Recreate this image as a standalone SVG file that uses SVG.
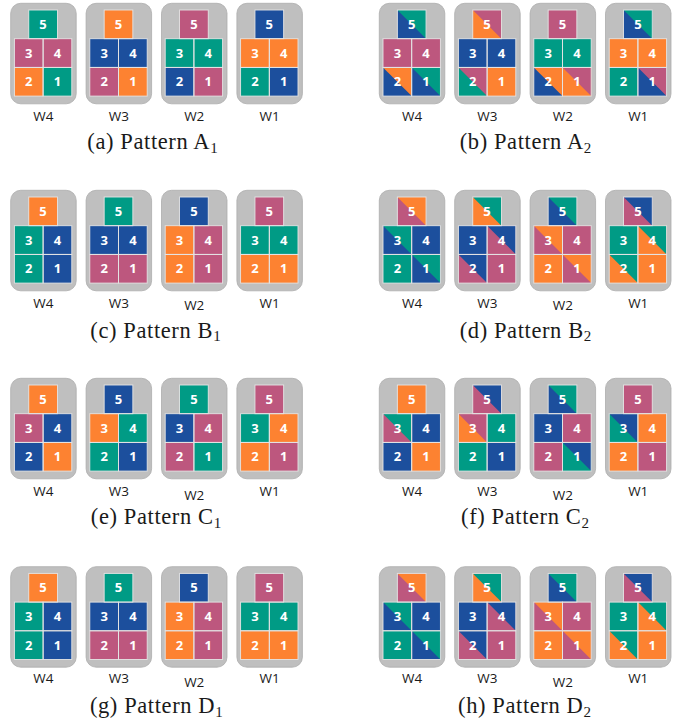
<svg xmlns="http://www.w3.org/2000/svg" width="684" height="724" viewBox="0 0 684 724">
<style>
.t{fill:#009b85}.o{fill:#fd8231}.p{fill:#bd577e}.b{fill:#1c4f9d}
.n{font-family:"Open Sans","Liberation Sans",sans-serif;font-weight:bold;font-size:13px;fill:#fff;text-anchor:middle}
.w{font-family:"Open Sans","Liberation Sans",sans-serif;font-size:13.5px;fill:#1a1a1a;text-anchor:middle}
.c{font-family:"Liberation Serif","Times New Roman",serif;font-size:22.5px;letter-spacing:0.6px;fill:#1a1a1a;text-anchor:middle}
.s{font-size:15px;letter-spacing:0}
</style>
<defs>
<rect id="bg" width="65.5" height="100.5" rx="10" fill="#bfbfbf" stroke="#acacac" stroke-width="0.8"/>
<rect id="q5" x="18.05" y="6.7" width="28.7" height="28.7"/>
<rect id="q3" x="3.7" y="35.4" width="28.7" height="28.7"/>
<rect id="q4" x="32.4" y="35.4" width="28.7" height="28.7"/>
<rect id="q2" x="3.7" y="64.1" width="28.7" height="28.7"/>
<rect id="q1" x="32.4" y="64.1" width="28.7" height="28.7"/>
<path id="u5" d="M18.05 6.7H46.75V35.4Z"/>
<path id="u3" d="M3.7 35.4H32.4V64.1Z"/>
<path id="u4" d="M32.4 35.4H61.1V64.1Z"/>
<path id="u2" d="M3.7 64.1H32.4V92.8Z"/>
<path id="u1" d="M32.4 64.1H61.1V92.8Z"/>
<g id="grid" fill="none" stroke="#e4e4e4" stroke-width="0.9">
<rect x="18.05" y="6.7" width="28.7" height="28.7"/>
<rect x="3.7" y="35.4" width="28.7" height="28.7"/>
<rect x="32.4" y="35.4" width="28.7" height="28.7"/>
<rect x="3.7" y="64.1" width="28.7" height="28.7"/>
<rect x="32.4" y="64.1" width="28.7" height="28.7"/>
</g>
<g id="dig" class="n">
<text x="32.4" y="25.7">5</text>
<text x="18.05" y="54.4">3</text>
<text x="46.75" y="54.4">4</text>
<text x="18.05" y="83.1">2</text>
<text x="46.75" y="83.1">1</text>
</g>
</defs>

<!-- (a) Pattern A1 -->
<g id="a-w4" transform="translate(10.7,3.3)"><use href="#bg"/><use href="#q5" class="t"/><use href="#q3" class="p"/><use href="#q4" class="p"/><use href="#q2" class="o"/><use href="#q1" class="t"/><use href="#grid"/><use href="#dig"/><text class="w" x="32.75" y="118">W4</text></g>
<g id="a-w3" transform="translate(86.1,3.3)"><use href="#bg"/><use href="#q5" class="o"/><use href="#q3" class="b"/><use href="#q4" class="b"/><use href="#q2" class="p"/><use href="#q1" class="o"/><use href="#grid"/><use href="#dig"/><text class="w" x="32.75" y="118">W3</text></g>
<g id="a-w2" transform="translate(161.5,3.3)"><use href="#bg"/><use href="#q5" class="p"/><use href="#q3" class="t"/><use href="#q4" class="t"/><use href="#q2" class="b"/><use href="#q1" class="p"/><use href="#grid"/><use href="#dig"/><text class="w" x="32.75" y="118">W2</text></g>
<g id="a-w1" transform="translate(236.9,3.3)"><use href="#bg"/><use href="#q5" class="b"/><use href="#q3" class="o"/><use href="#q4" class="o"/><use href="#q2" class="t"/><use href="#q1" class="b"/><use href="#grid"/><use href="#dig"/><text class="w" x="32.75" y="118">W1</text></g>

<!-- (b) Pattern A2 -->
<g id="b-w4" transform="translate(379.3,3.3)"><use href="#bg"/><use href="#q5" class="b"/><use href="#u5" class="t"/><use href="#q3" class="p"/><use href="#q4" class="p"/><use href="#q2" class="b"/><use href="#u2" class="o"/><use href="#q1" class="b"/><use href="#u1" class="t"/><use href="#grid"/><use href="#dig"/><text class="w" x="32.75" y="118">W4</text></g>
<g id="b-w3" transform="translate(454.7,3.3)"><use href="#bg"/><use href="#q5" class="o"/><use href="#u5" class="p"/><use href="#q3" class="b"/><use href="#q4" class="b"/><use href="#q2" class="t"/><use href="#u2" class="p"/><use href="#q1" class="o"/><use href="#grid"/><use href="#dig"/><text class="w" x="32.75" y="118">W3</text></g>
<g id="b-w2" transform="translate(530.1,3.3)"><use href="#bg"/><use href="#q5" class="p"/><use href="#q3" class="t"/><use href="#q4" class="t"/><use href="#q2" class="b"/><use href="#u2" class="o"/><use href="#q1" class="o"/><use href="#u1" class="p"/><use href="#grid"/><use href="#dig"/><text class="w" x="32.75" y="118">W2</text></g>
<g id="b-w1" transform="translate(605.5,3.3)"><use href="#bg"/><use href="#q5" class="b"/><use href="#u5" class="t"/><use href="#q3" class="o"/><use href="#q4" class="o"/><use href="#q2" class="t"/><use href="#q1" class="b"/><use href="#u1" class="p"/><use href="#grid"/><use href="#dig"/><text class="w" x="32.75" y="118">W1</text></g>

<!-- (c) Pattern B1 -->
<g id="c-w4" transform="translate(10.7,190.3)"><use href="#bg"/><use href="#q5" class="o"/><use href="#q3" class="t"/><use href="#q4" class="b"/><use href="#q2" class="t"/><use href="#q1" class="b"/><use href="#grid"/><use href="#dig"/><text class="w" x="32.75" y="118">W4</text></g>
<g id="c-w3" transform="translate(86.1,190.3)"><use href="#bg"/><use href="#q5" class="t"/><use href="#q3" class="b"/><use href="#q4" class="b"/><use href="#q2" class="p"/><use href="#q1" class="p"/><use href="#grid"/><use href="#dig"/><text class="w" x="32.75" y="118">W3</text></g>
<g id="c-w2" transform="translate(161.5,190.3)"><use href="#bg"/><use href="#q5" class="b"/><use href="#q3" class="o"/><use href="#q4" class="p"/><use href="#q2" class="o"/><use href="#q1" class="p"/><use href="#grid"/><use href="#dig"/><text class="w" x="32.75" y="119.7">W2</text></g>
<g id="c-w1" transform="translate(236.9,190.3)"><use href="#bg"/><use href="#q5" class="p"/><use href="#q3" class="t"/><use href="#q4" class="t"/><use href="#q2" class="o"/><use href="#q1" class="o"/><use href="#grid"/><use href="#dig"/><text class="w" x="32.75" y="118">W1</text></g>

<!-- (d) Pattern B2 -->
<g id="d-w4" transform="translate(379.3,190.3)"><use href="#bg"/><use href="#q5" class="p"/><use href="#u5" class="o"/><use href="#q3" class="b"/><use href="#u3" class="t"/><use href="#q4" class="b"/><use href="#q2" class="t"/><use href="#q1" class="b"/><use href="#u1" class="t"/><use href="#grid"/><use href="#dig"/><text class="w" x="32.75" y="118">W4</text></g>
<g id="d-w3" transform="translate(454.7,190.3)"><use href="#bg"/><use href="#q5" class="o"/><use href="#u5" class="t"/><use href="#q3" class="b"/><use href="#q4" class="p"/><use href="#u4" class="b"/><use href="#q2" class="p"/><use href="#u2" class="b"/><use href="#q1" class="p"/><use href="#grid"/><use href="#dig"/><text class="w" x="32.75" y="118">W3</text></g>
<g id="d-w2" transform="translate(530.1,190.3)"><use href="#bg"/><use href="#q5" class="b"/><use href="#u5" class="t"/><use href="#q3" class="p"/><use href="#u3" class="o"/><use href="#q4" class="p"/><use href="#q2" class="o"/><use href="#q1" class="p"/><use href="#u1" class="o"/><use href="#grid"/><use href="#dig"/><text class="w" x="32.75" y="119.7">W2</text></g>
<g id="d-w1" transform="translate(605.5,190.3)"><use href="#bg"/><use href="#q5" class="p"/><use href="#u5" class="b"/><use href="#q3" class="t"/><use href="#q4" class="o"/><use href="#u4" class="t"/><use href="#q2" class="o"/><use href="#u2" class="t"/><use href="#q1" class="o"/><use href="#grid"/><use href="#dig"/><text class="w" x="32.75" y="118">W1</text></g>

<!-- (e) Pattern C1 -->
<g id="e-w4" transform="translate(10.7,378.3)"><use href="#bg"/><use href="#q5" class="o"/><use href="#q3" class="p"/><use href="#q4" class="b"/><use href="#q2" class="b"/><use href="#q1" class="o"/><use href="#grid"/><use href="#dig"/><text class="w" x="32.75" y="118">W4</text></g>
<g id="e-w3" transform="translate(86.1,378.3)"><use href="#bg"/><use href="#q5" class="b"/><use href="#q3" class="o"/><use href="#q4" class="t"/><use href="#q2" class="t"/><use href="#q1" class="b"/><use href="#grid"/><use href="#dig"/><text class="w" x="32.75" y="118">W3</text></g>
<g id="e-w2" transform="translate(161.5,378.3)"><use href="#bg"/><use href="#q5" class="t"/><use href="#q3" class="b"/><use href="#q4" class="p"/><use href="#q2" class="p"/><use href="#q1" class="t"/><use href="#grid"/><use href="#dig"/><text class="w" x="32.75" y="121.3">W2</text></g>
<g id="e-w1" transform="translate(236.9,378.3)"><use href="#bg"/><use href="#q5" class="p"/><use href="#q3" class="t"/><use href="#q4" class="o"/><use href="#q2" class="o"/><use href="#q1" class="p"/><use href="#grid"/><use href="#dig"/><text class="w" x="32.75" y="118">W1</text></g>

<!-- (f) Pattern C2 -->
<g id="f-w4" transform="translate(379.3,378.3)"><use href="#bg"/><use href="#q5" class="o"/><use href="#q3" class="p"/><use href="#u3" class="t"/><use href="#q4" class="b"/><use href="#q2" class="b"/><use href="#q1" class="o"/><use href="#grid"/><use href="#dig"/><text class="w" x="32.75" y="118">W4</text></g>
<g id="f-w3" transform="translate(454.7,378.3)"><use href="#bg"/><use href="#q5" class="p"/><use href="#u5" class="b"/><use href="#q3" class="o"/><use href="#u3" class="p"/><use href="#q4" class="t"/><use href="#q2" class="t"/><use href="#q1" class="b"/><use href="#grid"/><use href="#dig"/><text class="w" x="32.75" y="118">W3</text></g>
<g id="f-w2" transform="translate(530.1,378.3)"><use href="#bg"/><use href="#q5" class="b"/><use href="#u5" class="t"/><use href="#q3" class="b"/><use href="#q4" class="p"/><use href="#q2" class="p"/><use href="#q1" class="t"/><use href="#u1" class="b"/><use href="#grid"/><use href="#dig"/><text class="w" x="32.75" y="121.3">W2</text></g>
<g id="f-w1" transform="translate(605.5,378.3)"><use href="#bg"/><use href="#q5" class="p"/><use href="#q3" class="t"/><use href="#u3" class="b"/><use href="#q4" class="o"/><use href="#q2" class="o"/><use href="#q1" class="p"/><use href="#grid"/><use href="#dig"/><text class="w" x="32.75" y="118">W1</text></g>

<!-- (g) Pattern D1 -->
<g id="g-w4" transform="translate(10.7,566.7)"><use href="#bg"/><use href="#q5" class="o"/><use href="#q3" class="t"/><use href="#q4" class="b"/><use href="#q2" class="t"/><use href="#q1" class="b"/><use href="#grid"/><use href="#dig"/><text class="w" x="32.75" y="116.5">W4</text></g>
<g id="g-w3" transform="translate(86.1,566.7)"><use href="#bg"/><use href="#q5" class="t"/><use href="#q3" class="b"/><use href="#q4" class="b"/><use href="#q2" class="p"/><use href="#q1" class="p"/><use href="#grid"/><use href="#dig"/><text class="w" x="32.75" y="116.5">W3</text></g>
<g id="g-w2" transform="translate(161.5,566.7)"><use href="#bg"/><use href="#q5" class="b"/><use href="#q3" class="o"/><use href="#q4" class="p"/><use href="#q2" class="o"/><use href="#q1" class="p"/><use href="#grid"/><use href="#dig"/><text class="w" x="32.75" y="119.9">W2</text></g>
<g id="g-w1" transform="translate(236.9,566.7)"><use href="#bg"/><use href="#q5" class="p"/><use href="#q3" class="t"/><use href="#q4" class="t"/><use href="#q2" class="o"/><use href="#q1" class="o"/><use href="#grid"/><use href="#dig"/><text class="w" x="32.75" y="116.5">W1</text></g>

<!-- (h) Pattern D2 -->
<g id="h-w4" transform="translate(379.3,566.7)"><use href="#bg"/><use href="#q5" class="p"/><use href="#u5" class="o"/><use href="#q3" class="b"/><use href="#u3" class="t"/><use href="#q4" class="b"/><use href="#q2" class="t"/><use href="#q1" class="b"/><use href="#u1" class="t"/><use href="#grid"/><use href="#dig"/><text class="w" x="32.75" y="116.5">W4</text></g>
<g id="h-w3" transform="translate(454.7,566.7)"><use href="#bg"/><use href="#q5" class="o"/><use href="#u5" class="t"/><use href="#q3" class="b"/><use href="#q4" class="p"/><use href="#u4" class="b"/><use href="#q2" class="p"/><use href="#u2" class="b"/><use href="#q1" class="p"/><use href="#grid"/><use href="#dig"/><text class="w" x="32.75" y="116.5">W3</text></g>
<g id="h-w2" transform="translate(530.1,566.7)"><use href="#bg"/><use href="#q5" class="b"/><use href="#u5" class="t"/><use href="#q3" class="p"/><use href="#u3" class="o"/><use href="#q4" class="p"/><use href="#q2" class="o"/><use href="#q1" class="p"/><use href="#u1" class="o"/><use href="#grid"/><use href="#dig"/><text class="w" x="32.75" y="119.9">W2</text></g>
<g id="h-w1" transform="translate(605.5,566.7)"><use href="#bg"/><use href="#q5" class="p"/><use href="#u5" class="b"/><use href="#q3" class="t"/><use href="#q4" class="o"/><use href="#u4" class="t"/><use href="#q2" class="o"/><use href="#u2" class="t"/><use href="#q1" class="o"/><use href="#grid"/><use href="#dig"/><text class="w" x="32.75" y="116.5">W1</text></g>

<!-- captions -->
<g id="captions">
<text class="c" x="152.5" y="149">(a) Pattern A<tspan class="s" dy="3.5">1</tspan></text>
<text class="c" x="525.5" y="149">(b) Pattern A<tspan class="s" dy="3.5">2</tspan></text>
<text class="c" x="155.5" y="337.5">(c) Pattern B<tspan class="s" dy="3.5">1</tspan></text>
<text class="c" x="525.5" y="337.5">(d) Pattern B<tspan class="s" dy="3.5">2</tspan></text>
<text class="c" x="156" y="524">(e) Pattern C<tspan class="s" dy="3.5">1</tspan></text>
<text class="c" x="525" y="524">(f) Pattern C<tspan class="s" dy="3.5">2</tspan></text>
<text class="c" x="156.3" y="713">(g) Pattern D<tspan class="s" dy="3.5">1</tspan></text>
<text class="c" x="524.5" y="713">(h) Pattern D<tspan class="s" dy="3.5">2</tspan></text>
</g>
</svg>
